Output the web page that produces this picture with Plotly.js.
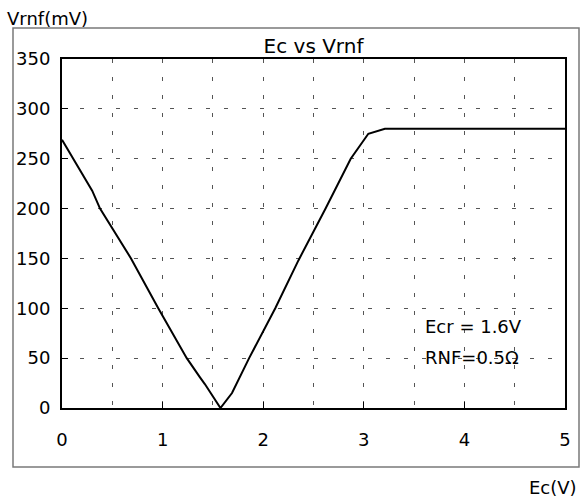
<!DOCTYPE html>
<html>
<head>
<meta charset="utf-8">
<script src="https://cdn.plot.ly/plotly-3.0.1.min.js"></script>
<style>html,body{margin:0;padding:0;background:#fff;}</style>
</head>
<body>
<div id="chart" style="width:585px;height:504px;"></div>
<script>
// Ec (V) and Vrnf (mV)
const ecValues = [0, 0.30, 0.378, 0.45, 0.686, 0.957, 1.24, 1.37, 1.42, 1.575, 1.69, 1.86, 2.12, 2.35, 2.62, 2.87, 3.045, 3.21, 5.0];
const vrnfValues = [269, 218, 200, 188, 150, 100, 50, 31, 24, 0, 15, 50, 100, 148, 200, 250, 275, 280, 280];
const xTicks = [0, 1, 2, 3, 4, 5];
const yTicks = [0, 50, 100, 150, 200, 250, 300, 350];
const chartTitle = "Ec vs Vrnf";
const xTitle = "Ec(V)";
const yTitle = "Vrnf(mV)";
const noteLines = ["Ecr = 1.6V", "RNF=0.5Ω"];
const noteX = 3.59;
const noteY = [82, 51];

const font = {family: "DejaVu Sans, Liberation Sans, Arial, sans-serif", size: 18, color: "#000"};
const gridDash = "4px,14px";

const trace = {
  x: ecValues, y: vrnfValues, type: "scatter", mode: "lines",
  line: {color: "#000", width: 2}, hoverinfo: "skip", showlegend: false
};

const layout = {
  width: 585, height: 504,
  margin: {l: 62, r: 20, t: 59, b: 96},
  paper_bgcolor: "#fff", plot_bgcolor: "#fff",
  font: font,
  title: {text: chartTitle, x: 0.5, xref: "paper", xanchor: "center", y: 1 - 46/504, yref: "container", yanchor: "middle", font: {family: font.family, size: 20, color: "#000"}},
  xaxis: {
    range: [0, 5], tickvals: xTicks, ticktext: xTicks.map(String),
    ticks: "inside", ticklen: 6, tickcolor: "#000", tickwidth: 1,
    showline: true, mirror: true, linecolor: "#000", linewidth: 2,
    showgrid: true, gridcolor: "#555", gridwidth: 1, griddash: gridDash,
    minor: {dtick: 0.5, tick0: 0, showgrid: true, gridcolor: "#555", gridwidth: 1, griddash: gridDash, ticks: ""},
    zeroline: false, ticklabelstandoff: 14, tickfont: {family: font.family, size: 18, color: "#000"},
    fixedrange: true
  },
  yaxis: {
    range: [0, 350], tickvals: yTicks, ticktext: yTicks.map(String),
    ticks: "inside", ticklen: 6, tickcolor: "#000", tickwidth: 1,
    showline: true, mirror: true, linecolor: "#000", linewidth: 2,
    showgrid: true, gridcolor: "#555", gridwidth: 1, griddash: gridDash,
    zeroline: false, ticklabelstandoff: 6, tickfont: {family: font.family, size: 18, color: "#000"},
    fixedrange: true
  },
  shapes: [{
    type: "rect", xref: "paper", yref: "paper",
    x0: (13-62)/503, x1: (579-62)/503, y0: (408-467)/349, y1: (408-28)/349,
    line: {color: "#7a7a7a", width: 1.5}, fillcolor: "rgba(0,0,0,0)", layer: "below"
  }],
  annotations: [
    {text: yTitle, xref: "paper", yref: "paper", x: (5-62)/503, y: (408-18)/349, xanchor: "left", yanchor: "middle", showarrow: false, font: {family: font.family, size: 18, color: "#000"}},
    {text: xTitle, xref: "paper", yref: "paper", x: (579-62)/503, y: (408-487)/349, xanchor: "right", yanchor: "middle", showarrow: false, font: {family: font.family, size: 18, color: "#000"}},
    {text: noteLines[0], xref: "x", yref: "y", x: noteX, y: noteY[0], xanchor: "left", yanchor: "middle", showarrow: false, font: {family: font.family, size: 18, color: "#000"}},
    {text: noteLines[1], xref: "x", yref: "y", x: noteX, y: noteY[1], xanchor: "left", yanchor: "middle", showarrow: false, font: {family: font.family, size: 18, color: "#000"}}
  ]
};

Plotly.newPlot("chart", [trace], layout, {displayModeBar: false, staticPlot: true});
</script>
</body>
</html>
